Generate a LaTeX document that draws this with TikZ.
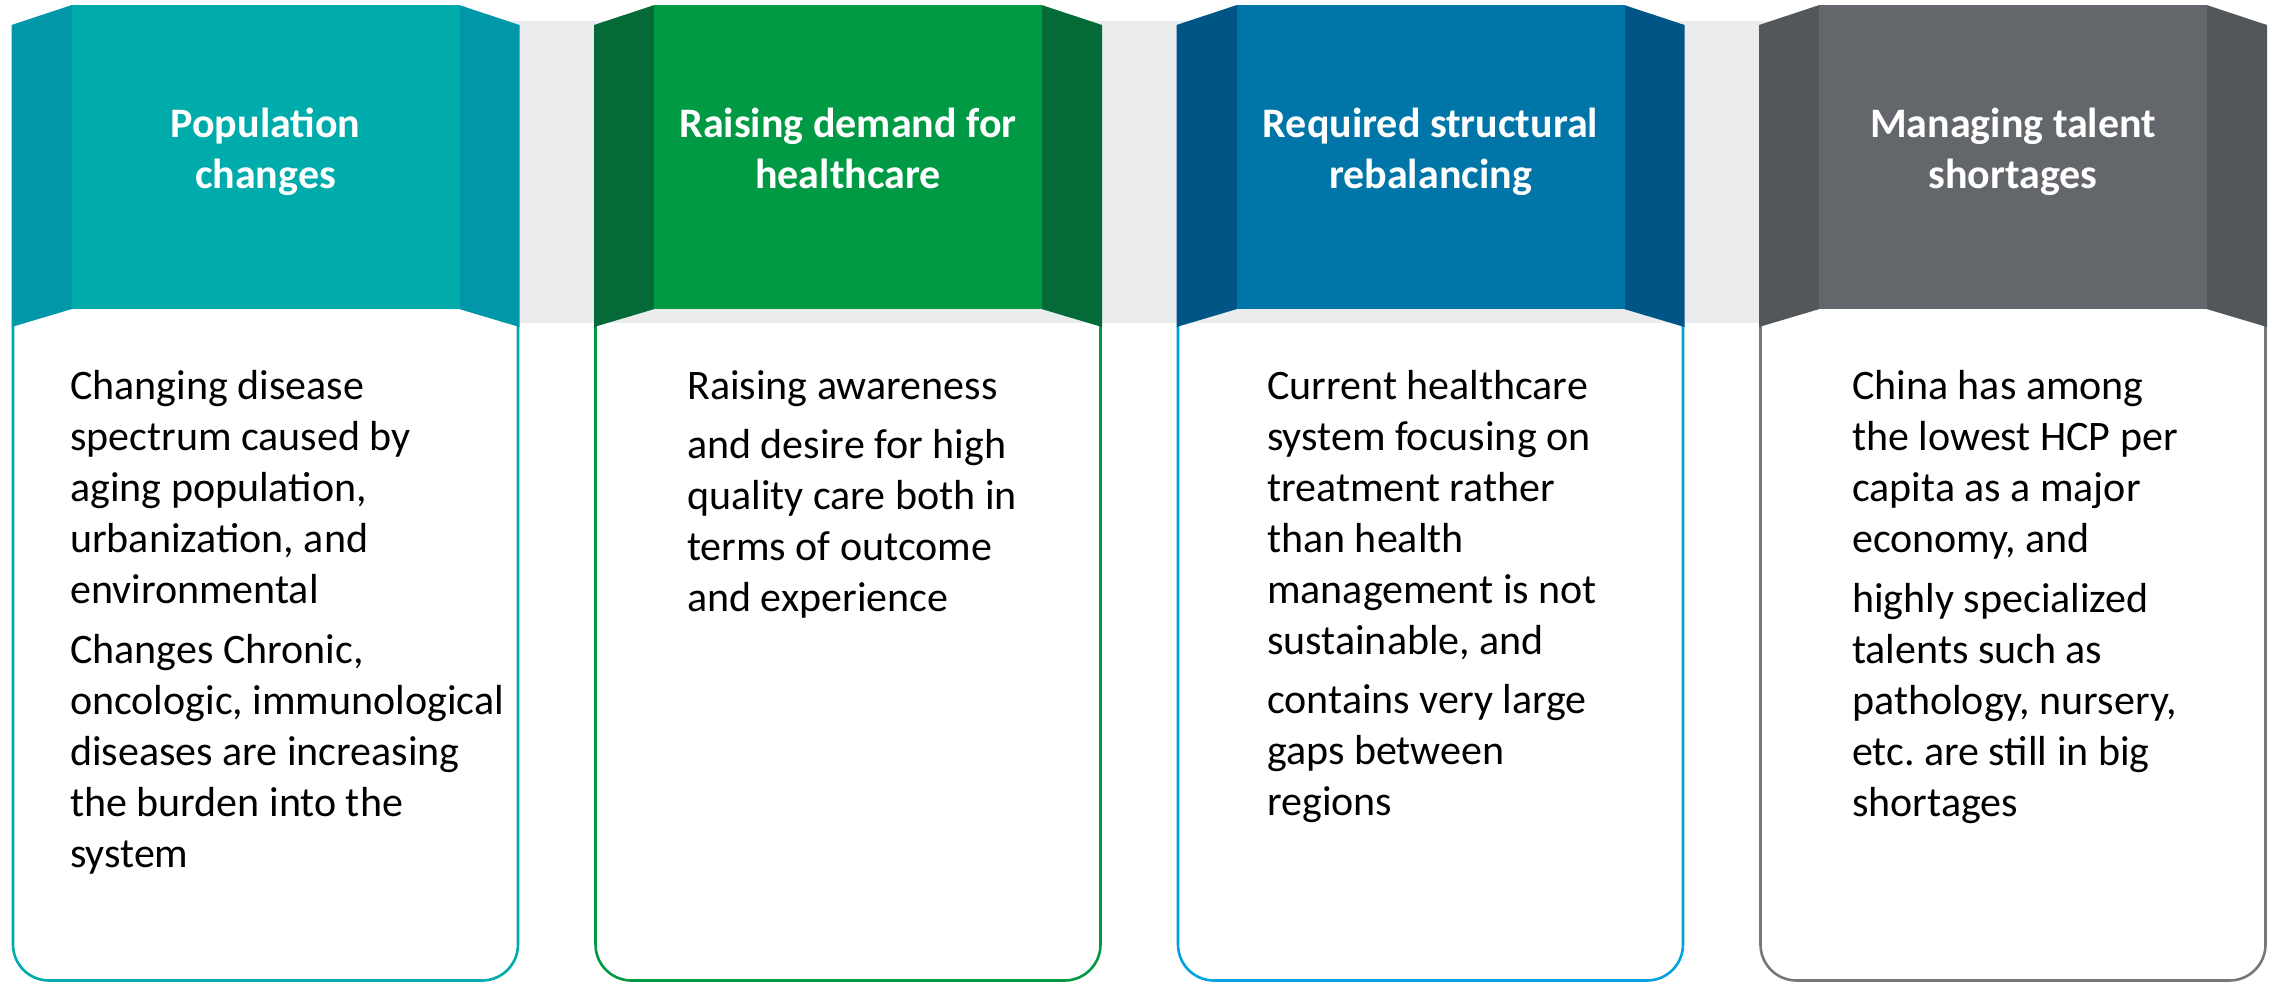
\documentclass[tikz,border=0pt]{standalone}
\usepackage{fontspec}
\setmainfont{Carlito}
\frenchspacing
\definecolor{cAmain}{HTML}{00ABAB}
\definecolor{cAflap}{HTML}{0097A9}
\definecolor{cAline}{HTML}{00ABAB}
\definecolor{cBmain}{HTML}{009A44}
\definecolor{cBflap}{HTML}{046A38}
\definecolor{cBline}{HTML}{009A44}
\definecolor{cCmain}{HTML}{0076A8}
\definecolor{cCflap}{HTML}{005587}
\definecolor{cCline}{HTML}{00A3E0}
\definecolor{cDmain}{HTML}{63666A}
\definecolor{cDflap}{HTML}{53565A}
\definecolor{cDline}{HTML}{75787B}
\definecolor{bandgray}{HTML}{EBECEE}
\tikzset{
  panel/.style={draw=none, minimum width=388pt, minimum height=304pt, inner sep=0pt, outer sep=0pt},
  titletext/.style={text=white, font=\fontsize{42}{51}\selectfont\bfseries, align=center, inner sep=0pt, anchor=base},
  bodytext/.style={text=black, font=\fontsize{42}{51}\selectfont\frenchspacing, align=left, inner sep=0pt, anchor=base west},
  bodyline/.style={line width=2.6pt, rounded corners=36pt},
}
% #1 index, #2 left x, #3 main colour, #4 flap colour, #5 line colour,
% #6 title, #7 text x offset, #8 body text, #9 baseline of last body line
\newcommand\mycard[9]{%
  \draw[bodyline, draw=#5] ({#2+1.5},326) -- ({#2+1.5},980.5) -- ({#2+506.5},980.5) -- ({#2+506.5},326);
  \fill[#4] (#2,25) -- ({#2+60.5},5) -- ({#2+60.5},309) -- (#2,327) -- cycle;
  \fill[#4] ({#2+447.5},5) -- ({#2+508},25) -- ({#2+508},327) -- ({#2+447.5},309) -- cycle;
  \node[panel, fill=#3] (panel#1) at ({#2+254},157) {};
  \node[titletext] (title#1) at ({#2+254},188) {#6};
  \node[bodytext] (text#1) at ({#2+#7},#9) {#8};
}
\begin{document}
\begin{tikzpicture}[x=1pt, y=-1pt]
\useasboundingbox (0,0) rectangle (2272,982);
\fill[white] (0,0) rectangle (2272,982);
\fill[bandgray] (500,21) rectangle (1770,323);
\mycard{1}{11.5}{cAmain}{cAflap}{cAline}{Population\\changes}{58.5}{Changing disease\\spectrum caused by\\aging population,\\urbanization, and\\environmental\\[9pt]Changes Chronic,\\oncologic, immunological\\diseases are increasing\\the burden into the\\system}{867.5}
\mycard{2}{594}{cBmain}{cBflap}{cBline}{Raising demand for\\healthcare}{93}{Raising awareness\\[8pt]and desire for high\\quality care both in\\terms of outcome\\and experience}{611.5}
\mycard{3}{1176.5}{cCmain}{cCflap}{cCline}{Required structural\\rebalancing}{90.5}{Current healthcare\\system focusing on\\treatment rather\\than health\\management is not\\sustainable, and\\[8pt]contains very large\\gaps between\\regions}{815.5}
\mycard{4}{1759}{cDmain}{cDflap}{cDline}{Managing talent\\shortages}{93}{China has among\\the lowest HCP per\\capita as a major\\economy, and\\[9pt]highly specialized\\talents such as\\pathology, nursery,\\etc. are still in big\\shortages}{816.5}
\end{tikzpicture}
\end{document}
